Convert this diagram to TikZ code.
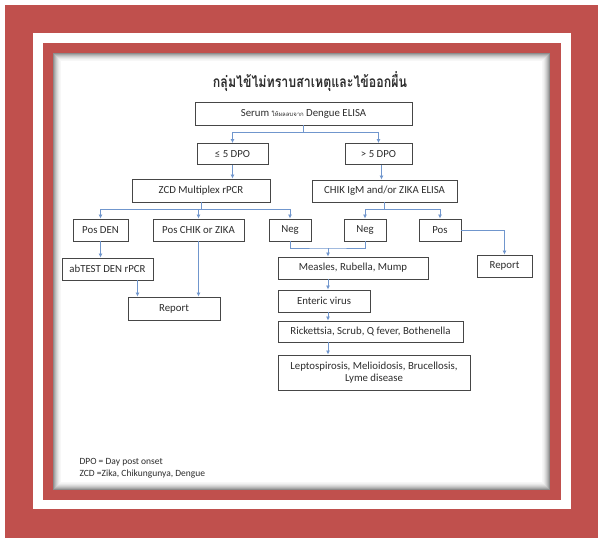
\documentclass[tikz,border=0pt]{standalone}
\usepackage{fontspec}
\setmainfont{Carlito}
\newfontfamily\thaifont[Script=Thai]{Loma}
\usepackage{graphicx}
\usepackage{tikz}
\usetikzlibrary{arrows.meta}
\definecolor{framered}{RGB}{192,80,77}
\definecolor{flowblue}{RGB}{112,150,205}
\definecolor{boxgray}{RGB}{70,70,70}
\definecolor{txtgray}{RGB}{45,45,45}

\begin{document}
\begin{tikzpicture}[x=1pt, y=-1pt, >={Latex[length=4pt,width=4pt]},
    box/.style={draw=boxgray, line width=0.9pt, fill=white, text=txtgray,
        inner sep=0pt, minimum height=22, align=center,
        font=\fontsize{10.8}{12.5}\selectfont},
    wire/.style={draw=flowblue, line width=0.9pt},
    flow/.style={wire, ->}]
    % frame
    \useasboundingbox (0,0) rectangle (598,538);
    \fill[white] (0,0) rectangle (598,538);
    \fill[framered] (5,5) rectangle (598,538);
    \fill[white] (33,33) rectangle (571,509);
    \fill[framered] (43,43) rectangle (561,500);
    \fill[white] (53,53) rectangle (550,490);
    \foreach \i/\o in {0/0.45, 1/0.35, 2/0.27, 3/0.2, 4/0.14, 5/0.09, 6/0.05, 7/0.03}
        \draw[black, opacity=\o, line width=1pt] (53.5+\i,53.5+\i) rectangle (549.5-\i,489.5-\i);

    % title
    \node[text=txtgray] (title) at (310,82)
        {\scalebox{0.8}[1]{\thaifont\bfseries\fontsize{15.5}{18}\selectfont กลุ่มไข้ไม่ทราบสาเหตุและไข้ออกผื่น}};

    % boxes
    \node[box, minimum width=217, minimum height=23] (serum) at (303.5,113.5)
        {Serum {\thaifont\fontsize{6}{7}\selectfont ให้ผลลบจาก} Dengue ELISA};
    \node[box, minimum width=71, minimum height=21] (le5) at (232.5,154) {≤ 5 DPO};
    \node[box, minimum width=67, minimum height=21] (gt5) at (378.5,154) {> 5 DPO};
    \node[box, minimum width=138, minimum height=23] (zcd) at (201,190.5) {ZCD Multiplex rPCR};
    \node[box, minimum width=145] (chik) at (384.5,191) {CHIK IgM and/or ZIKA ELISA};
    \node[box, minimum width=55] (posden) at (100.5,230) {Pos DEN};
    \node[box, minimum width=91] (poschik) at (198.5,230) {Pos CHIK or ZIKA};
    \node[box, minimum width=42] (negl) at (290,230) {Neg};
    \node[box, minimum width=42] (negm) at (365,230) {Neg};
    \node[box, minimum width=42] (pos) at (440,230) {Pos};
    \node[box, minimum width=91] (abtest) at (107.5,269) {abTEST DEN rPCR};
    \node[box, minimum width=92, minimum height=23] (reportl) at (174,308.5) {Report};
    \node[box, minimum width=150] (measles) at (353,268) {Measles, Rubella, Mump};
    \node[box, minimum width=55] (reportr) at (504.5,266) {Report};
    \node[box, minimum width=92] (enteric) at (324,301) {Enteric virus};
    \node[box, minimum width=185, minimum height=21] (rick) at (370.5,331.5)
        {Rickettsia, Scrub, Q fever, Bothenella};
    \node[box, minimum width=192, minimum height=35] (lepto) at (374,372.5)
        {Leptospirosis, Melioidosis, Brucellosis,\\Lyme disease};

    % note
    \node[anchor=west, text=txtgray, align=left, font=\fontsize{9.5}{12}\selectfont] (note) at (76,468)
        {DPO = Day post onset\\ZCD =Zika, Chikungunya, Dengue};

    % connectors
    \coordinate (mj) at (328,248);
    \draw[wire] (serum.south) -- ++(0,6.5) coordinate (sj);
    \draw[flow] (sj) -| (le5);
    \draw[flow] (sj) -| (gt5);
    \draw[flow] (le5.south) -- (le5.south |- zcd.north);
    \draw[flow] ([xshift=3pt]gt5.south) -- ([xshift=3pt]gt5.south |- chik.north);
    \draw[wire] (zcd.south) -- ++(0,7) coordinate (zj);
    \draw[flow] (zj) -| (posden);
    \draw[flow] (zj) -| (poschik);
    \draw[flow] (zj) -| (negl);
    \draw[wire] (chik.south) -- ++(0,7) coordinate (cj);
    \draw[flow] (cj) -| (negm);
    \draw[flow] (cj) -| (pos);
    \draw[flow] (pos.east) -| (reportr);
    \draw[flow] (posden.south) -- (posden.south |- abtest.north);
    \draw[flow] ([xshift=30pt]abtest.south) -- ([xshift=30pt]abtest.south |- reportl.north);
    \draw[flow] (poschik.south) -- (poschik.south |- reportl.north);
    \draw[wire] (negl.south) |- (mj) -| (negm.south);
    \draw[flow] (mj) -- (mj |- measles.north);
    \draw[flow] (mj |- measles.south) -- (mj |- enteric.north);
    \draw[flow] (mj |- enteric.south) -- (mj |- rick.north);
    \draw[flow] (mj |- rick.south) -- (mj |- lepto.north);
\end{tikzpicture}
\end{document}
